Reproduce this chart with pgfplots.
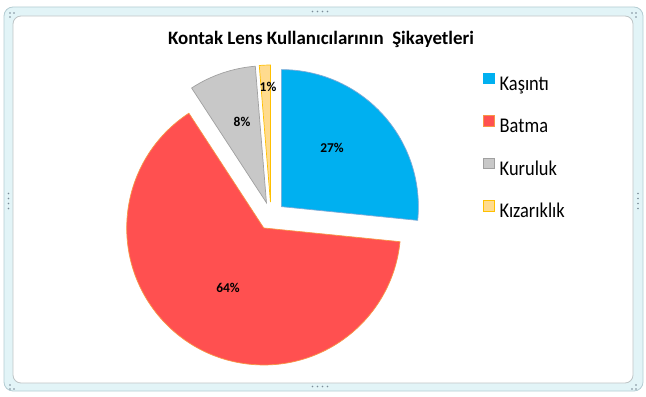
\documentclass[border=0pt]{standalone}
\usepackage{pgfplots}
\pgfplotsset{compat=1.18}
\usepackage{fontspec}
\setmainfont[FakeStretch=0.88]{Carlito}
\newfontfamily\plainfont{Carlito}
\definecolor{cA}{HTML}{00B0F0}
\definecolor{eA}{HTML}{7FA9D6}
\definecolor{cB}{HTML}{FF5050}
\definecolor{eB}{HTML}{F79646}
\definecolor{cC}{HTML}{C8C8C8}
\definecolor{eC}{HTML}{A0A0A0}
\definecolor{cD}{HTML}{FFDB8E}
\definecolor{eD}{HTML}{FFC000}
\definecolor{band}{HTML}{E2F4F7}
\definecolor{bandline}{HTML}{B4CDD3}
\definecolor{innerline}{HTML}{BEC4C6}
\definecolor{handle}{HTML}{7A8A96}
\begin{document}
\begin{tikzpicture}
% ---- data (percent shares) ----
\def\vA{26.6}% Kaşıntı
\def\vB{64.2}% Batma
\def\vC{7.9}%  Kuruluk
\def\vD{1.3}%  Kızarıklık
% ---- pie geometry (axis units = bp) ----
\def\cx{271}\def\cy{216}\def\R{137}\def\ex{14}
\pgfmathsetmacro\sA{90}
\pgfmathsetmacro\eA{\sA-3.6*\vA}
\pgfmathsetmacro\eB{\eA-3.6*\vB}
\pgfmathsetmacro\eC{\eB-3.6*\vC}
\pgfmathsetmacro\eD{\eC-3.6*\vD}
\pgfmathsetmacro\mA{(\sA+\eA)/2}
\pgfmathsetmacro\mB{(\eA+\eB)/2}
\pgfmathsetmacro\mC{(\eB+\eC)/2}
\pgfmathsetmacro\mD{(\eC+\eD)/2}
\pgfmathsetmacro\xA{\cx+\ex*cos(\mA)}\pgfmathsetmacro\yA{\cy-\ex*sin(\mA)}
\pgfmathsetmacro\xB{\cx+\ex*cos(\mB)}\pgfmathsetmacro\yB{\cy-\ex*sin(\mB)}
\pgfmathsetmacro\xC{\cx+\ex*cos(\mC)}\pgfmathsetmacro\yC{\cy-\ex*sin(\mC)}
\pgfmathsetmacro\xD{\cx+\ex*cos(\mD)}\pgfmathsetmacro\yD{\cy-\ex*sin(\mD)}
\begin{axis}[
  width=646bp, height=397bp, scale only axis,
  xmin=0, xmax=646, ymin=0, ymax=397, y dir=reverse,
  hide axis, clip=false,
  legend image code/.code={\draw[#1] (0bp,1.7bp) rectangle (11bp,12.4bp);},
  legend style={at={(axis cs:483.3,72.7)}, anchor=north west,
    draw=none, fill=none, inner sep=0pt, outer sep=0pt,
    row sep=20.8bp, column sep=5bp,
    font=\fontsize{21}{24}\selectfont,
    nodes={inner sep=0pt, text height=14bp, text depth=4bp}},
  legend cell align=left,
]
\path (axis cs:0,0) (axis cs:646,397);
% ---- chart frame ----
\draw[bandline, fill=band, line width=0.8bp, rounded corners=9bp]
  (axis cs:4,7) rectangle (axis cs:643,391);
\draw[innerline, fill=white, line width=0.8bp, rounded corners=8bp]
  (axis cs:13,16) rectangle (axis cs:633,383);
% handles
\pgfplotsinvokeforeach{312.5,317.5,322.5,327.5}{
  \fill[handle] (axis cs:#1,11.5) circle[radius=0.9bp];
  \fill[handle] (axis cs:#1,386.5) circle[radius=0.9bp];}
\pgfplotsinvokeforeach{193.5,198.5,203.5,208.5}{
  \fill[handle] (axis cs:8.5,#1) circle[radius=0.9bp];
  \fill[handle] (axis cs:638,#1) circle[radius=0.9bp];}
\fill[handle] (axis cs:10,13) circle[radius=0.9bp] (axis cs:14,13) circle[radius=0.9bp] (axis cs:10,17) circle[radius=0.9bp];
\fill[handle] (axis cs:632,13) circle[radius=0.9bp] (axis cs:636,13) circle[radius=0.9bp] (axis cs:636,17) circle[radius=0.9bp];
\fill[handle] (axis cs:10,385) circle[radius=0.9bp] (axis cs:10,389) circle[radius=0.9bp] (axis cs:14,389) circle[radius=0.9bp];
\fill[handle] (axis cs:636,385) circle[radius=0.9bp] (axis cs:632,389) circle[radius=0.9bp] (axis cs:636,389) circle[radius=0.9bp];
% ---- title ----
\node[anchor=base, font=\plainfont\fontsize{19}{22}\selectfont\bfseries]
  at (axis cs:321,44.3) {Kontak Lens Kullanıcılarının~ Şikayetleri};
% ---- pie slices ----
\filldraw[fill=cA, draw=eA, line width=0.7bp]
  (axis cs:\xA,\yA) -- ++(\sA:\R bp) arc[start angle=\sA, end angle=\eA, radius=\R bp] -- cycle;
\filldraw[fill=cB, draw=eB, line width=0.7bp]
  (axis cs:\xB,\yB) -- ++(\eA:\R bp) arc[start angle=\eA, end angle=\eB, radius=\R bp] -- cycle;
\filldraw[fill=cC, draw=eC, line width=0.7bp]
  (axis cs:\xC,\yC) -- ++(\eB:\R bp) arc[start angle=\eB, end angle=\eC, radius=\R bp] -- cycle;
\filldraw[fill=cD, draw=eD, line width=0.7bp]
  (axis cs:\xD,\yD) -- ++(\eC:\R bp) arc[start angle=\eC, end angle=\eD, radius=\R bp] -- cycle;
% ---- data labels ----
\begin{scope}[every node/.style={font=\plainfont\fontsize{13.5}{15}\selectfont\bfseries, inner sep=0pt}]
\node at (axis cs:332,148) {27\%};
\node at (axis cs:228,288) {64\%};
\node at (axis cs:242,122) {8\%};
\node at (axis cs:268,87) {1\%};
\end{scope}
% ---- legend ----
\addlegendimage{fill=cA, draw=cA}
\addlegendimage{fill=cB, draw=eB}
\addlegendimage{fill=cC, draw=eC}
\addlegendimage{fill=cD, draw=eD}
\legend{Kaşıntı, Batma, Kuruluk, Kızarıklık}
\end{axis}
\end{tikzpicture}
\end{document}
